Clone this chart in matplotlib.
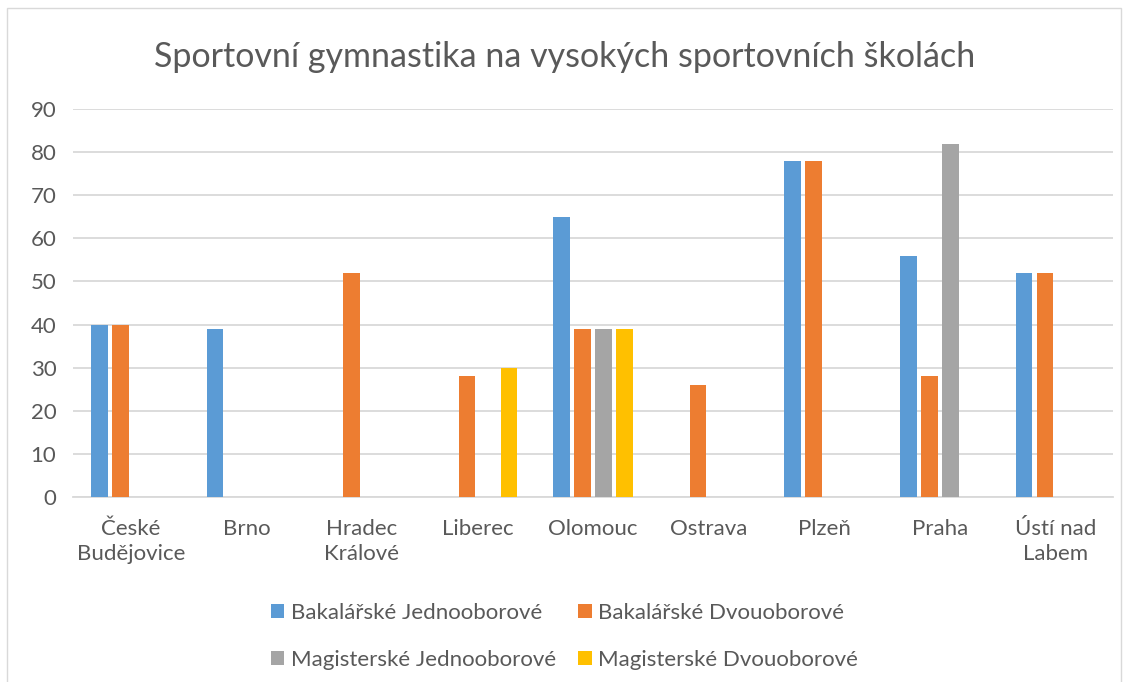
import matplotlib.pyplot as plt
import numpy as np
from matplotlib.patches import Rectangle

# data
mesta = ['České\nBudějovice', 'Brno', 'Hradec\nKrálové', 'Liberec', 'Olomouc',
         'Ostrava', 'Plzeň', 'Praha', 'Ústí nad\nLabem']
bak_jedno = [40, 39, 0, 0, 65, 0, 78, 56, 52]
bak_dvou = [40, 0, 52, 28, 39, 26, 78, 28, 52]
mag_jedno = [0, 0, 0, 0, 39, 0, 0, 82, 0]
mag_dvou = [0, 0, 0, 30, 39, 0, 0, 0, 0]
serie_nazvy = ['Bakalářské Jednooborové', 'Bakalářské Dvouoborové',
               'Magisterské Jednooborové', 'Magisterské Dvouoborové']
barvy = ['#5b9bd5', '#ed7d31', '#a5a5a5', '#ffc000']

plt.rcParams['font.family'] = ['Lato', 'DejaVu Sans']
txt = '#595959'

fig = plt.figure(figsize=(11.29, 6.82), dpi=100)
ax = fig.add_axes([0.0647, 0.2713, 0.9213, 0.5687])

x = np.arange(len(mesta))
step = 0.182
sirka = 0.143
handles = []
for i, (vals, c) in enumerate(zip([bak_jedno, bak_dvou, mag_jedno, mag_dvou], barvy)):
    h = ax.bar(x + (i - 1.5) * step, vals, width=sirka, color=c, zorder=3)
    handles.append(h)

ax.set_xlim(-0.5, len(mesta) - 0.5)
ax.set_ylim(0, 90)
ax.set_yticks(range(0, 91, 10))
ax.yaxis.grid(True, color='#d9d9d9', lw=1.3, zorder=0)
for s in ['top', 'right', 'left']:
    ax.spines[s].set_visible(False)
ax.spines['bottom'].set_color('#d9d9d9')
ax.spines['bottom'].set_linewidth(1.3)
ax.tick_params(axis='both', length=0, labelsize=16, colors=txt)
ax.tick_params(axis='y', pad=12)
ax.tick_params(axis='x', pad=16)
ax.set_xticks(x)
ax.set_xticklabels(mesta, linespacing=1.3, va='top')

fig.text(0.5, 1 - 57 / 682, 'Sportovní gymnastika na vysokých sportovních školách',
         ha='center', va='center', fontsize=24.5, color=txt)

# legenda se plni po radcich
poradi = [0, 2, 1, 3]
fig.legend([handles[i] for i in poradi], [serie_nazvy[i] for i in poradi],
           loc='upper center', bbox_to_anchor=(0.5, 1 - 583 / 682),
           ncol=2, frameon=False, fontsize=16, labelcolor=txt, handlelength=0.6,
           handleheight=0.6, handletextpad=0.3, columnspacing=1.0, labelspacing=1.2)

fig.patches.append(Rectangle((7 / 1129, -0.01), 1114 / 1129, 1 - 8 / 682 + 0.01,
                             transform=fig.transFigure, fill=False,
                             edgecolor='#d9d9d9', lw=1.0))

fig.savefig('out.png', dpi=100)
